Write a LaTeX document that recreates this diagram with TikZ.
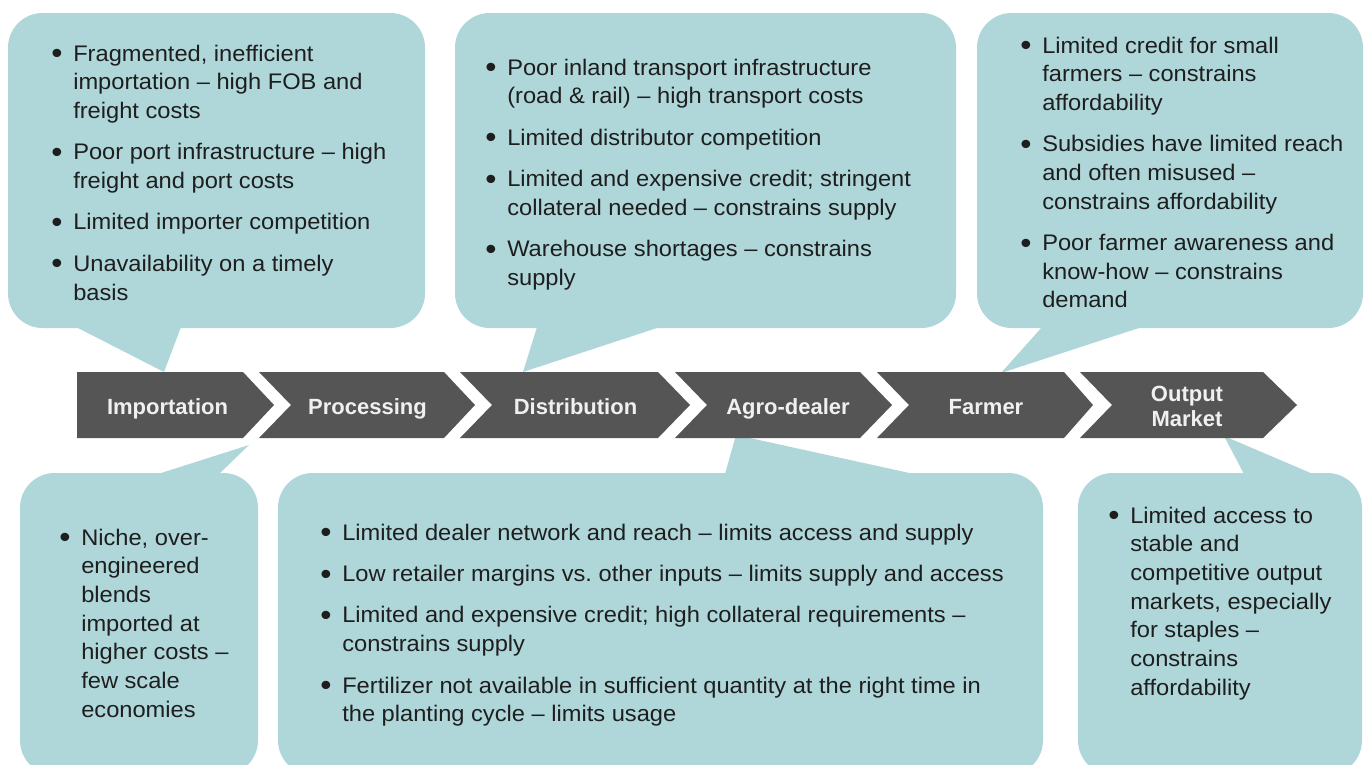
\documentclass[tikz,border=0pt]{standalone}
\usepackage{graphicx}
\usepackage{fontspec}
\setmainfont{Liberation Sans}
\newfontfamily\bodyfont[FakeStretch=1.05]{Liberation Sans}
\definecolor{callout}{RGB}{175,215,218}
\definecolor{chev}{RGB}{85,85,85}
\definecolor{txt}{RGB}{30,30,30}
\definecolor{labtxt}{RGB}{240,240,240}
\newcommand{\bul}{\makebox[16.5pt][l]{\raisebox{-1.9pt}{\scalebox{1.35}{•}}}}
\newcommand{\brk}{\newline}
\newcommand{\bitem}[1]{\par\hangindent=16.5pt\hangafter=1\noindent\bul#1\par\setlength{\parskip}{9.6pt}}
\newenvironment{blist}[1]{\begin{minipage}[t]{#1}\raggedright\frenchspacing\setlength{\parskip}{0pt}}{\end{minipage}}
\tikzset{
  bodytext/.style={anchor=base west, inner sep=0pt, font=\bodyfont\fontsize{16.9pt}{21.5pt}\selectfont, text=txt},
  lab/.style={inner sep=0pt, font=\bfseries\fontsize{16.5pt}{18.75pt}\selectfont, text=labtxt, align=center},
  bubble/.style={fill=callout, rounded corners=26pt},
  chevron/.style={fill=chev}
}
\begin{document}
\begin{tikzpicture}[x=0.75pt,y=-0.75pt]
\useasboundingbox (0,0) rectangle (1367,764);
\clip (0,0) rectangle (1367,764);
\fill[white] (0,0) rectangle (1367,764);

% callout bubbles
\fill[bubble] (8,13) rectangle (425,328);
\fill[callout] (76,327) -- (164,372) -- (181,327) -- cycle;
\fill[bubble] (455,13) rectangle (956,328);
\fill[callout] (537,327) -- (523,372) -- (660,327) -- cycle;
\fill[bubble] (977,13) rectangle (1363,328);
\fill[callout] (1042,327) -- (1001,373) -- (1142,327) -- cycle;
\fill[bubble] (20,473) rectangle (258,775);
\fill[callout] (158,474) -- (249,445) -- (219,474) -- cycle;
\fill[bubble] (278,473) rectangle (1043,775);
\fill[callout] (725,474) -- (736,435) -- (914,474) -- cycle;
\fill[bubble] (1078,473) rectangle (1362,775);
\fill[callout] (1244,474) -- (1224,436) -- (1313,474) -- cycle;

% chevrons
\fill[chevron] (77,372) -- (243,372) -- (274,405) -- (243,438) -- (77,438) -- cycle;
\fill[chevron] (259,372) -- (444,372) -- (475,405) -- (444,438) -- (259,438) -- (291,405) -- cycle;
\fill[chevron] (460,372) -- (658,372) -- (690,405) -- (658,438) -- (460,438) -- (492,405) -- cycle;
\fill[chevron] (675,372) -- (860,372) -- (892,405) -- (860,438) -- (675,438) -- (707,405) -- cycle;
\fill[chevron] (877,372) -- (1064,372) -- (1093,405) -- (1064,438) -- (877,438) -- (909,405) -- cycle;
\fill[chevron] (1080,372) -- (1263,372) -- (1297,405) -- (1263,438) -- (1080,438) -- (1112,405) -- cycle;

% chevron labels
\node[lab, anchor=base] (imp) at (167.5,414) {Importation};
\node[lab, anchor=base] (pro) at (367.5,414) {Processing};
\node[lab, anchor=base] (dis) at (575.5,414) {Distribution};
\node[lab, anchor=base] (agr) at (788,414) {Agro-dealer};
\node[lab, anchor=base] (far) at (986,414) {Farmer};
\node[lab] (out) at (1187,406) {Output\\Market};

% callout texts
\node[bodytext] (t1) at (51,61) {\begin{blist}{300pt}%
\bitem{Fragmented, inefficient\brk importation – high FOB and\brk freight costs}
\bitem{Poor port infrastructure – high\brk freight and port costs}
\bitem{Limited importer competition}
\bitem{Unavailability on a timely\brk basis}\end{blist}};

\node[bodytext] (t2) at (485,75) {\begin{blist}{380pt}%
\bitem{Poor inland transport infrastructure\brk (road \& rail) – high transport costs}
\bitem{Limited distributor competition}
\bitem{Limited and expensive credit; stringent\brk collateral needed – constrains supply}
\bitem{Warehouse shortages – constrains\brk supply}\end{blist}};

\node[bodytext] (t3) at (1020,53) {\begin{blist}{290pt}%
\bitem{Limited credit for small\brk farmers – constrains\brk affordability}
\bitem{Subsidies have limited reach\brk and often misused –\brk constrains affordability}
\bitem{Poor farmer awareness and\brk know-how – constrains\brk demand}\end{blist}};

\node[bodytext] (t4) at (59,545) {\begin{blist}{200pt}%
\bitem{Niche, over-\brk engineered\brk blends\brk imported at\brk higher costs –\brk few scale\brk economies}\end{blist}};

\node[bodytext] (t5) at (320,540) {\begin{blist}{580pt}%
\bitem{Limited dealer network and reach – limits access and supply}
\bitem{Low retailer margins vs. other inputs – limits supply and access}
\bitem{Limited and expensive credit; high collateral requirements –\brk constrains supply}
\bitem{Fertilizer not available in sufficient quantity at the right time in\brk the planting cycle – limits usage}\end{blist}};

\node[bodytext] (t6) at (1108,523) {\begin{blist}{230pt}%
\bitem{Limited access to\brk stable and\brk competitive output\brk markets, especially\brk for staples –\brk constrains\brk affordability}\end{blist}};
\end{tikzpicture}
\end{document}
